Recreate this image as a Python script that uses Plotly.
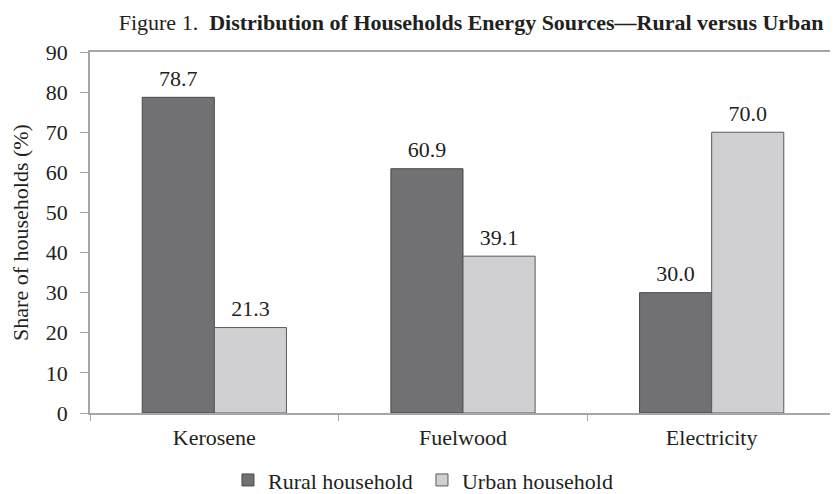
import plotly.graph_objects as go

categories = ["Kerosene", "Fuelwood", "Electricity"]
rural = [78.7, 60.9, 30.0]
urban = [21.3, 39.1, 70.0]
series_names = ["Rural household", "Urban household"]
y_ticks = [0, 10, 20, 30, 40, 50, 60, 70, 80, 90]

FONT = "Liberation Serif, Times New Roman, serif"
TXT = "#231f20"
FS = 22

fig = go.Figure()
colors = ["#717174", "#d0d0d2"]
outlines = ["#4a4a4c", "#5a5a5c"]
for i, (vals, name) in enumerate(zip([rural, urban], series_names)):
    fig.add_trace(go.Bar(
        x=categories, y=vals, name=name, offsetgroup=str(i),
        marker=dict(color=colors[i], line=dict(color=outlines[i], width=1)),
    ))
for i, vals in enumerate([rural, urban]):
    fig.add_trace(go.Scatter(
        x=categories, y=vals, mode="markers+text", offsetgroup=str(i),
        marker=dict(size=8, opacity=0, color="white"),
        texttemplate="%{y:.1f}", textposition="top center",
        textfont=dict(family=FONT, size=FS, color=TXT),
        showlegend=False, cliponaxis=False, hoverinfo="skip",
    ))

fig.update_layout(
    width=830, height=486,
    margin=dict(l=82, r=2, t=44, b=81, autoexpand=False),
    paper_bgcolor="white", plot_bgcolor="white",
    barmode="group", bargap=0.42, bargroupgap=0,
    scattermode="group", scattergap=0.42,
    font=dict(family=FONT, size=FS, color=TXT),
    title=dict(
        text="Figure 1.  <b>Distribution of Households Energy Sources\u2014Rural versus Urban</b>",
        x=0.558, xanchor="center", xref="container", y=0.971, yanchor="middle",
        font=dict(family=FONT, size=FS, color=TXT),
    ),
    showlegend=True,
    legend=dict(
        orientation="h", x=0.445, xanchor="center", y=-0.186, yanchor="middle",
        font=dict(family=FONT, size=FS, color=TXT),
        itemwidth=30, traceorder="normal",
        entrywidth=149, entrywidthmode="pixels",
    ),
    xaxis=dict(
        showline=True, linecolor="#a6a6a6", linewidth=1.5, mirror=True,
        ticks="outside", tickson="boundaries", ticklen=6, tickcolor="#a6a6a6",
        ticklabelstandoff=4,
        tickfont=dict(family=FONT, size=FS, color=TXT), showgrid=False,
    ),
    yaxis=dict(
        range=[0, 90], tickvals=y_ticks, showgrid=False, zeroline=False,
        showline=True, linecolor="#a6a6a6", linewidth=1.5,
        ticks="outside", ticklen=8, tickcolor="#a6a6a6",
        ticklabelstandoff=8,
        tickfont=dict(family=FONT, size=FS, color=TXT),
        title=dict(text="Share of households (%)", standoff=14,
                   font=dict(family=FONT, size=FS, color=TXT)),
    ),
    shapes=[dict(type="line", xref="paper", yref="paper", x0=1, x1=1, y0=0, y1=1,
                 line=dict(color="#e6e6e6", width=1))],
)

fig.write_html("out.html")
